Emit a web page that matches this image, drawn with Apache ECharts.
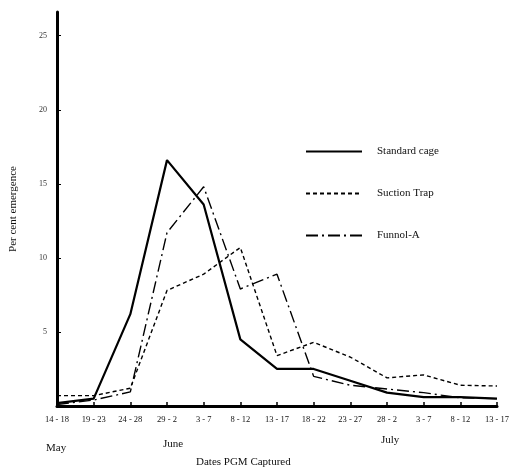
<!DOCTYPE html>
<html>
<head>
<meta charset="utf-8">
<script src="https://cdn.jsdelivr.net/npm/echarts@6/dist/echarts.min.js"></script>
<style>
html, body { margin: 0; padding: 0; background: #fff; }
#main { width: 516px; height: 473px; }
</style>
</head>
<body>
<div id="main"></div>
<script>
// capture periods (May / June / July)
var dates = ['14 - 18', '19 - 23', '24 - 28', '29 - 2', '3 - 7', '8 - 12', '13 - 17',
             '18 - 22', '23 - 27', '28 - 2', '3 - 7', '8 - 12', '13 - 17'];
var standardCage = [0.2, 0.5, 6.2, 16.6, 13.6, 4.5, 2.5, 2.5, 1.7, 0.9, 0.6, 0.6, 0.5];
var suctionTrap  = [0.7, 0.7, 1.2, 7.8, 8.9, 10.7, 3.4, 4.3, 3.3, 1.9, 2.1, 1.4, 1.35];
var funnelA      = [0.1, 0.4, 0.95, 11.7, 14.8, 7.9, 8.9, 2.0, 1.4, 1.15, 0.9, 0.55, 0.5];
var yTicks = [5, 10, 15, 20, 25];

var font = 'Liberation Serif';
var myChart = echarts.init(document.getElementById('main'));
var option = {
    animation: false,
    textStyle: { fontFamily: font, color: '#111' },
    grid: { left: 55, right: 19, top: 12, bottom: 67 },
    legend: {
        orient: 'vertical',
        left: 300,
        top: 141,
        itemGap: 31,
        itemWidth: 56,
        itemHeight: 12,
        itemStyle: { opacity: 0 },
        textStyle: { fontFamily: font, fontSize: 11, color: '#111', padding: [0, 0, 0, 10] },
        data: ['Standard cage', 'Suction Trap', 'Funnol-A']
    },
    xAxis: {
        type: 'category',
        boundaryGap: false,
        data: dates,
        axisLine: { lineStyle: { color: '#000', width: 3 } },
        axisTick: { inside: true, length: 4, lineStyle: { color: '#000', width: 1.5 } },
        axisLabel: { fontFamily: font, fontSize: 8.5, color: '#111', margin: 9, interval: 0 }
    },
    yAxis: {
        type: 'value',
        min: 0,
        max: 26.6,
        interval: 5,
        name: 'Per cent emergence',
        nameLocation: 'middle',
        nameGap: 38,
        nameTextStyle: { fontFamily: font, fontSize: 11, color: '#111' },
        splitLine: { show: false },
        axisLine: { show: true, lineStyle: { color: '#000', width: 3 } },
        axisTick: { show: true, inside: true, length: 4, lineStyle: { color: '#000' } },
        axisLabel: {
            showMinLabel: false,
            showMaxLabel: false,
            fontFamily: font, fontSize: 8, color: '#333', margin: 10,
            formatter: function (v) { return yTicks.indexOf(v) >= 0 ? v : ''; }
        }
    },
    series: [
        {
            name: 'Standard cage',
            type: 'line',
            data: standardCage,
            symbol: 'none',
            lineStyle: { color: '#000', width: 2.2, type: 'solid' },
            itemStyle: { color: '#000' }
        },
        {
            name: 'Suction Trap',
            type: 'line',
            data: suctionTrap,
            symbol: 'none',
            lineStyle: { color: '#000', width: 1.4, type: [4, 3] },
            itemStyle: { color: '#000' }
        },
        {
            name: 'Funnol-A',
            type: 'line',
            data: funnelA,
            symbol: 'none',
            lineStyle: { color: '#000', width: 1.4, type: [12, 4, 2, 4] },
            itemStyle: { color: '#000' }
        }
    ],
    graphic: [
        { type: 'text', left: 46, top: 443, style: { text: 'May', font: '11px "Liberation Serif"', fill: '#111' } },
        { type: 'text', left: 163, top: 439, style: { text: 'June', font: '11px "Liberation Serif"', fill: '#111' } },
        { type: 'text', left: 381, top: 435, style: { text: 'July', font: '11px "Liberation Serif"', fill: '#111' } },
        { type: 'text', left: 196, top: 457, style: { text: 'Dates PGM Captured', font: '11px "Liberation Serif"', fill: '#111' } }
    ]
};
myChart.setOption(option);
</script>
</body>
</html>
